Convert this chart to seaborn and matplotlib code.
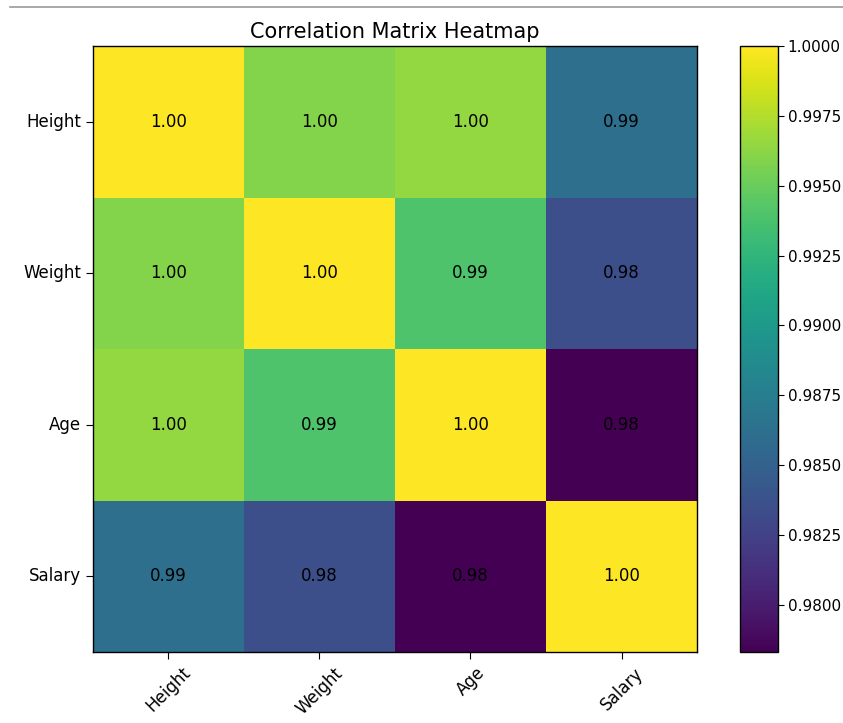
#!/usr/bin/env python
# correlation matrix heatmap

import matplotlib

matplotlib.use("Agg")
import matplotlib.pyplot as plt
import numpy as np
import pandas as pd
import seaborn as sns
from matplotlib.lines import Line2D

# data
labels = ["Height", "Weight", "Age", "Salary"]
height_row = [1.0, 0.9960, 0.9965, 0.9861]
weight_row = [0.9960, 1.0, 0.9939, 0.9835]
age_row = [0.9965, 0.9939, 1.0, 0.9783]
salary_row = [0.9861, 0.9835, 0.9783, 1.0]
cbar_ticks = [0.98, 0.9825, 0.985, 0.9875, 0.99, 0.9925, 0.995, 0.9975, 1.0]


def main():
    corr = pd.DataFrame(
        [height_row, weight_row, age_row, salary_row], index=labels, columns=labels
    )

    fig = plt.figure(figsize=(8.43, 7.23), dpi=100)
    ax = fig.add_axes([0.110, 0.098, 0.717, 0.838])
    cax = fig.add_axes([0.878, 0.098, 0.045, 0.838])

    sns.heatmap(
        corr,
        ax=ax,
        cbar_ax=cax,
        cmap="viridis",
        annot=True,
        fmt=".2f",
        annot_kws={"color": "black", "fontsize": 12},
        cbar_kws={"ticks": cbar_ticks, "format": "%.4f"},
    )

    for spine in ax.spines.values():
        spine.set_visible(True)
        spine.set_linewidth(1.0)
    cbar = ax.collections[0].colorbar
    cbar.outline.set_visible(True)
    cbar.outline.set_linewidth(1.0)

    ax.tick_params(axis="both", labelsize=12, length=5)
    ax.set_xticklabels(labels, rotation=45, ha="center")
    ax.set_yticklabels(labels, rotation=0)
    cax.tick_params(labelsize=11, length=4, pad=3)
    ax.set_title("Correlation Matrix Heatmap", fontsize=15, pad=6)

    # thin grey rule across the top, as in the screenshot
    fig.add_artist(
        Line2D([0.012, 1.0], [0.990, 0.990], transform=fig.transFigure,
               color="#999999", lw=1.2)
    )

    plt.savefig("out.png", dpi=100)
    plt.close()


if __name__ == "__main__":
    main()
